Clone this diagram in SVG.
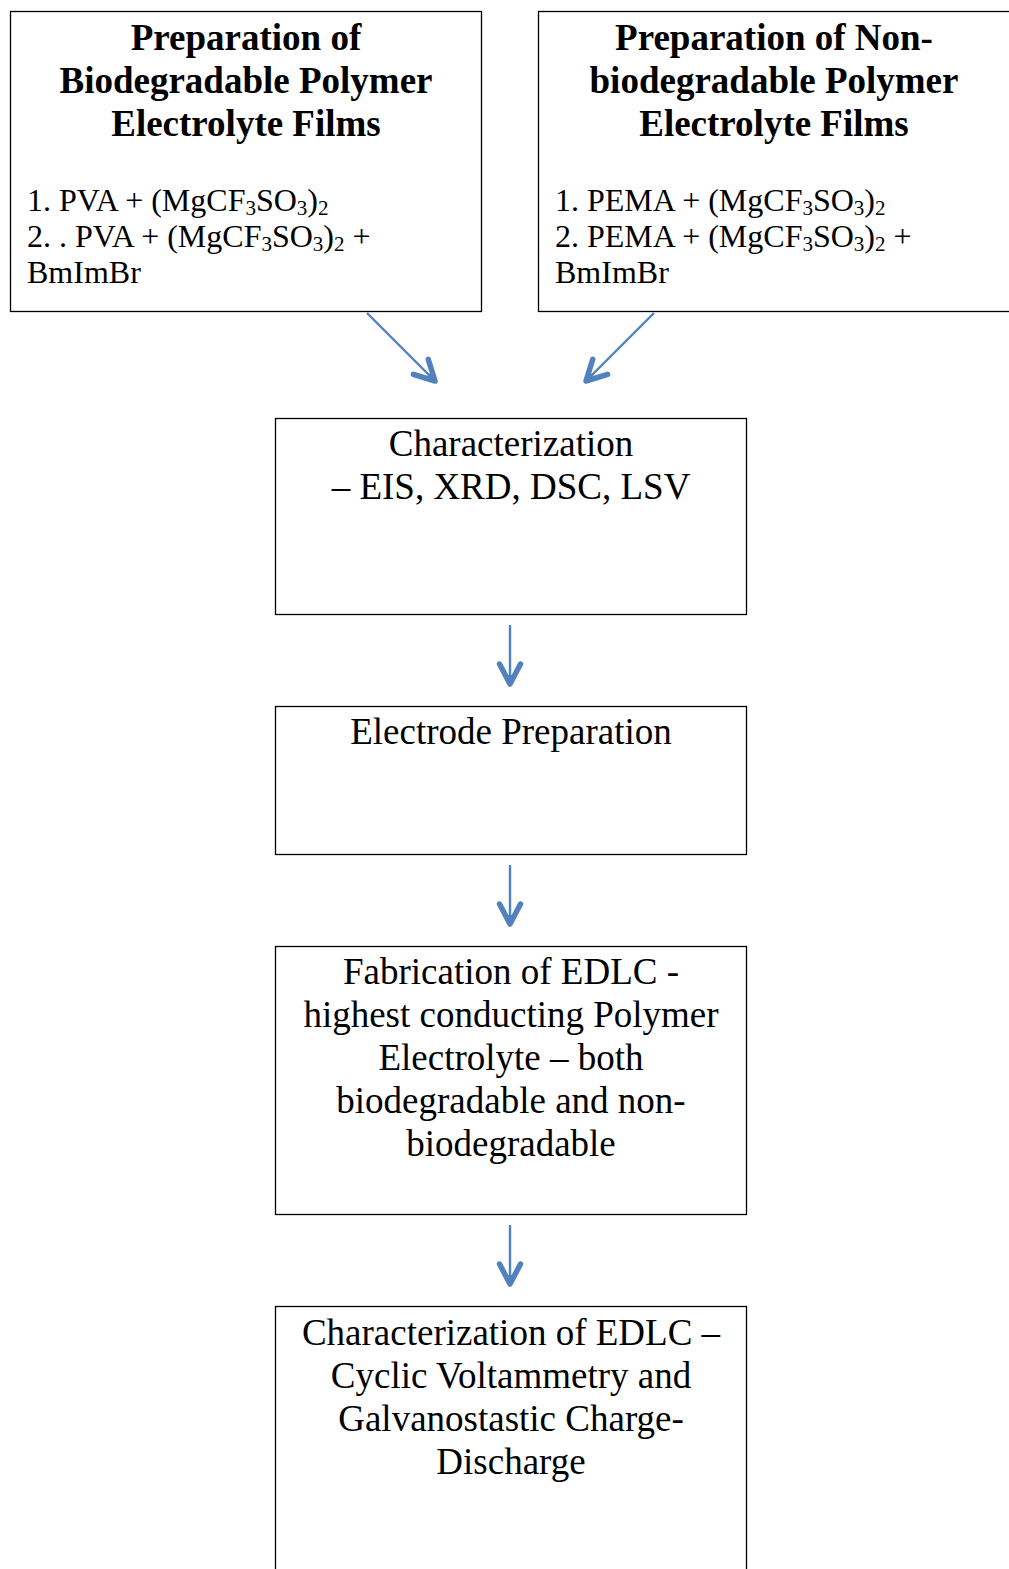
<svg xmlns="http://www.w3.org/2000/svg" width="1009" height="1569" viewBox="0 0 1009 1569">
<style>
.box{fill:#fff;stroke:#000;stroke-width:1.3}
.t{font-family:"Liberation Serif","Times New Roman",serif;font-size:37px;fill:#000;text-anchor:middle}
.b{font-weight:bold}
.l{font-family:"Liberation Serif","Times New Roman",serif;font-size:32px;fill:#000}
.s{font-size:21px}
.c{stroke:#5282BE;stroke-width:2.4;fill:none}
</style>
<defs>
<marker id="ah" markerUnits="userSpaceOnUse" markerWidth="40" markerHeight="40" refX="0" refY="0" viewBox="-25 -20 30 40" orient="auto" overflow="visible">
<path d="M-20,-10.5 L0,0 L-20,10.5" fill="none" stroke="#5282BE" stroke-width="5.5" stroke-linecap="round" stroke-linejoin="round"/>
<path d="M-9,-4 L0,0 L-9,4 Z" fill="#5282BE"/>
</marker>
</defs>
<g id="connectors">
<line class="c" x1="367" y1="313" x2="435" y2="381" marker-end="url(#ah)"/>
<line class="c" x1="654" y1="313" x2="586" y2="381" marker-end="url(#ah)"/>
<line class="c" x1="510" y1="625" x2="510" y2="684" marker-end="url(#ah)"/>
<line class="c" x1="510" y1="865" x2="510" y2="924" marker-end="url(#ah)"/>
<line class="c" x1="510" y1="1225" x2="510" y2="1284" marker-end="url(#ah)"/>
</g>
<g id="node-bio">
<rect class="box" x="10.5" y="11.5" width="471" height="300"/>
<text class="t b" x="246" y="50">Preparation of</text>
<text class="t b" x="246" y="93">Biodegradable Polymer</text>
<text class="t b" x="246" y="136">Electrolyte Films</text>
<text class="l" x="27" y="211">1. PVA + (MgCF<tspan class="s" dy="4">3</tspan><tspan dy="-4">SO</tspan><tspan class="s" dy="4">3</tspan><tspan dy="-4">)</tspan><tspan class="s" dy="4">2</tspan></text>
<text class="l" x="27" y="247">2. . PVA + (MgCF<tspan class="s" dy="4">3</tspan><tspan dy="-4">SO</tspan><tspan class="s" dy="4">3</tspan><tspan dy="-4">)</tspan><tspan class="s" dy="4">2</tspan><tspan dy="-4"> +</tspan></text>
<text class="l" x="27" y="283">BmImBr</text>
</g>
<g id="node-nonbio">
<rect class="box" x="538.5" y="11.5" width="472" height="300"/>
<text class="t b" x="774" y="50">Preparation of Non-</text>
<text class="t b" x="774" y="93">biodegradable Polymer</text>
<text class="t b" x="774" y="136">Electrolyte Films</text>
<text class="l" x="555" y="211">1. PEMA + (MgCF<tspan class="s" dy="4">3</tspan><tspan dy="-4">SO</tspan><tspan class="s" dy="4">3</tspan><tspan dy="-4">)</tspan><tspan class="s" dy="4">2</tspan></text>
<text class="l" x="555" y="247">2. PEMA + (MgCF<tspan class="s" dy="4">3</tspan><tspan dy="-4">SO</tspan><tspan class="s" dy="4">3</tspan><tspan dy="-4">)</tspan><tspan class="s" dy="4">2</tspan><tspan dy="-4"> +</tspan></text>
<text class="l" x="555" y="283">BmImBr</text>
</g>
<g id="node-char">
<rect class="box" x="275.5" y="418.5" width="471" height="196"/>
<text class="t" x="511" y="456">Characterization</text>
<text class="t" x="511" y="499">– EIS, XRD, DSC, LSV</text>
</g>
<g id="node-electrode">
<rect class="box" x="275.5" y="706.5" width="471" height="148"/>
<text class="t" x="511" y="744">Electrode Preparation</text>
</g>
<g id="node-fab">
<rect class="box" x="275.5" y="946.5" width="471" height="268"/>
<text class="t" x="511" y="984">Fabrication of EDLC -</text>
<text class="t" x="511" y="1027">highest conducting Polymer</text>
<text class="t" x="511" y="1070">Electrolyte – both</text>
<text class="t" x="511" y="1113">biodegradable and non-</text>
<text class="t" x="511" y="1156">biodegradable</text>
</g>
<g id="node-edlc">
<rect class="box" x="275.5" y="1306.5" width="471" height="280"/>
<text class="t" x="511" y="1345">Characterization of EDLC –</text>
<text class="t" x="511" y="1388">Cyclic Voltammetry and</text>
<text class="t" x="511" y="1431">Galvanostastic Charge-</text>
<text class="t" x="511" y="1474">Discharge</text>
</g>
</svg>
